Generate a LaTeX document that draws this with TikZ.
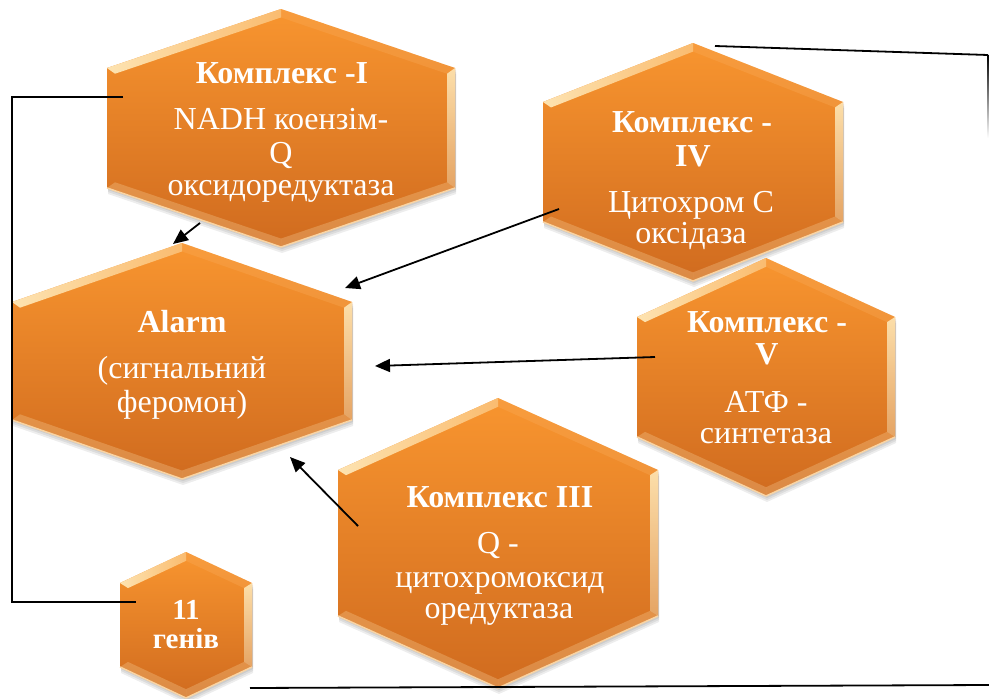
\documentclass[tikz,border=0pt]{standalone}
\usepackage{fontspec}
\setmainfont{Liberation Serif}
\usetikzlibrary{arrows.meta}

\definecolor{orTop}{HTML}{F8952F}
\definecolor{orBot}{HTML}{D06B1F}
\definecolor{rimLight}{HTML}{FEE8B8}
\definecolor{rimEdge}{HTML}{F9D4A4}

\newcommand{\hexcell}[5]{%
 \pgfmathsetmacro{\hxL}{#1-#3}%
 \pgfmathsetmacro{\hxR}{#1+#3}%
 \pgfmathsetmacro{\hyT}{#2-#4}%
 \pgfmathsetmacro{\hyB}{#2+#4}%
 \pgfmathsetmacro{\hsT}{#2-#5}%
 \pgfmathsetmacro{\hsB}{#2+#5}%
 \pgfmathsetmacro{\hm}{(#4-#5)/#3}%
 \pgfmathsetmacro{\hk}{8*sqrt(1+\hm*\hm)}%
 \pgfmathsetmacro{\ixL}{\hxL+8}%
 \pgfmathsetmacro{\ixR}{\hxR-8}%
 \pgfmathsetmacro{\iyT}{\hyT+\hk}%
 \pgfmathsetmacro{\iyB}{\hyB-\hk}%
 \pgfmathsetmacro{\isT}{\hsT-\hm*8+\hk}%
 \pgfmathsetmacro{\isB}{\hsB+\hm*8-\hk}%
 \foreach \s in {2,4,6}{\fill[black,opacity=0.07] (#1+1,\hyT+\s) -- (\hxR+1,\hsT+\s) -- (\hxR+1,\hsB+\s) -- (#1+1,\hyB+\s) -- (\hxL+1,\hsB+\s) -- (\hxL+1,\hsT+\s) -- cycle;}
 \shade[top color=orTop, bottom color=orBot] (#1,\hyT) -- (\hxR,\hsT) -- (\hxR,\hsB) -- (#1,\hyB) -- (\hxL,\hsB) -- (\hxL,\hsT) -- cycle;
 \fill[orTop!80!white, opacity=.35] (#1,\hyT) -- (\hxR,\hsT) -- (\ixR,\isT) -- (#1,\iyT) -- cycle;
 \fill[rimLight, opacity=.25] (\hxL,\hsB) -- (#1,\hyB) -- (#1,\iyB) -- (\ixL,\isB) -- cycle;
 \fill[rimLight, opacity=.25] (\hxR,\hsB) -- (#1,\hyB) -- (#1,\iyB) -- (\ixR,\isB) -- cycle;
 \shade[left color=rimLight, right color=orTop!50!rimLight, opacity=.95] (\hxL,\hsT) -- (#1,\hyT) -- (#1,\iyT) -- (\ixL,\isT) -- cycle;
 \shade[top color=rimLight, bottom color=orBot!50!rimLight, opacity=.9] (\hxR,\hsT) -- (\hxR,\hsB) -- (\ixR,\isB) -- (\ixR,\isT) -- cycle;
 \draw[rimEdge, line width=1.5pt, line join=round] (\hxL,\hsB) -- (#1,\hyB) -- (\hxR,\hsB);
}

\tikzset{
 ttl/.style={text=white, font=\fontsize{32}{32}\selectfont\bfseries, anchor=base, inner sep=0pt},
 ttls/.style={text=white, font=\fontsize{29}{29}\selectfont\bfseries, anchor=base, inner sep=0pt},
 txt/.style={text=white, font=\fontsize{32}{32}\selectfont, anchor=base, inner sep=0pt},
 conn/.style={line width=1.8pt, black},
 arr/.style={conn, -{Triangle[length=15pt,width=13pt]}},
}

\begin{document}
\begin{tikzpicture}[x=1pt,y=-1pt]
\useasboundingbox (0,0) rectangle (989,699);
\fill[white] (0,0) rectangle (989,699);

% hexagons
\hexcell{281}{128}{174}{119}{60}
\hexcell{693}{162}{150}{119}{60}
\hexcell{182}{361}{170}{118}{59}
\hexcell{766}{377}{129}{119}{60}
\hexcell{498}{543}{160}{145}{73}
\hexcell{186}{625}{66}{73}{42}

% texts
\node[ttl] (c1t) at (282,83) {Комплекс -I};
\node[txt] (c1a) at (281,129) {NADH коензім-};
\node[txt] (c1b) at (281,163) {Q};
\node[txt] (c1c) at (281,195) {оксидоредуктаза};

\node[ttl] (c4t) at (692,132) {Комплекс -};
\node[ttl] (c4u) at (693,166) {IV};
\node[txt] (c4a) at (691,212) {Цитохром С};
\node[txt] (c4b) at (691,243) {оксідаза};

\node[ttl] (alt) at (182,332) {Alarm};
\node[txt] (ala) at (182,378) {(сигнальний};
\node[txt] (alb) at (182,412) {феромон)};

\node[ttl] (c5t) at (767,332) {Комплекс -};
\node[ttl] (c5u) at (767,364) {V};
\node[txt] (c5a) at (766,412) {АТФ -};
\node[txt] (c5b) at (766,443) {синтетаза};

\node[ttl] (c3t) at (500,507) {Комплекс III};
\node[txt] (c3a) at (498,553) {Q -};
\node[txt] (c3b) at (500,587) {цитохромоксид};
\node[txt] (c3c) at (499,618) {оредуктаза};

\node[ttls] (g1) at (186,619) {11};
\node[ttls] (g2) at (186,648) {генів};

% connector points
\coordinate (c1L) at (123,97);
\coordinate (bkT) at (12,97);
\coordinate (bkB) at (12,602);
\coordinate (gL) at (136,602);
\coordinate (c1B) at (200,223);
\coordinate (alTop) at (173,244);
\coordinate (c4L) at (559,209);
\coordinate (alTR) at (345,288);
\coordinate (c5L) at (655,357);
\coordinate (alR) at (375,366);
\coordinate (c3L) at (358,526);
\coordinate (alBR) at (290,457);
\coordinate (c4T) at (715,46);
\coordinate (rC) at (988,55);
\coordinate (rE) at (988,138);
\coordinate (bS) at (250,688);
\coordinate (bE) at (989,685);

% connectors
\draw[conn] (c1L) -- (bkT) -- (bkB) -- (gL);
\draw[arr] (c1B) -- (alTop);
\draw[arr] (c4L) -- (alTR);
\draw[arr] (c5L) -- (alR);
\draw[arr] (c3L) -- (alBR);
\draw[conn] (c4T) -- (rC);
\shade[top color=black, bottom color=white] ([xshift=-0.9pt]rC) rectangle ([xshift=0.9pt]rE);
\draw[conn] (bS) -- (bE);
\end{tikzpicture}
\end{document}
